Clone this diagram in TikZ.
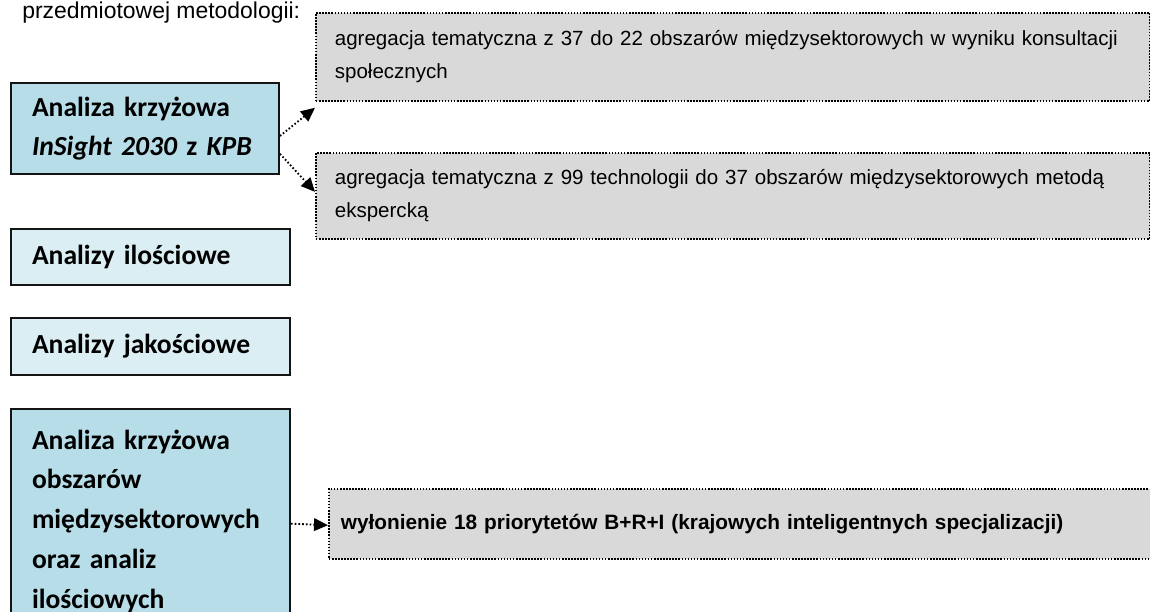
\documentclass[tikz,border=0pt]{standalone}
\usepackage{fontspec}
\setmainfont{Liberation Sans}
\newfontfamily\carlito{Carlito}
\usepackage{xcolor}
\usepackage{tikz}
\usetikzlibrary{arrows.meta,calc,positioning}
\definecolor{aquadeep}{RGB}{183,221,232}
\definecolor{aquapale}{RGB}{218,238,243}
\definecolor{boxgrey}{RGB}{217,217,217}
\definecolor{edgeblack}{RGB}{20,20,20}
\tikzset{
  crossbox/.style={draw=edgeblack,line width=1.5pt,fill=aquadeep,anchor=north west,
    align=left,inner xsep=15.75pt,inner ysep=0pt,
    font=\carlito\bfseries\fontsize{20.7pt}{29.8pt}\selectfont},
  analysisbox/.style={crossbox,fill=aquapale},
  resultbox/.style={draw=black,line width=1.3pt,dash pattern=on 1.2pt off 1.1pt,
    fill=boxgrey,anchor=north west,align=left,inner xsep=14.25pt,inner ysep=0pt,
    font=\fontsize{15.4pt}{24.75pt}\selectfont},
  dotlink/.style={-{Triangle[length=10.5pt,width=9.5pt]},line width=1.4pt,
    dash pattern=on 1.2pt off 1.6pt,draw=black}
}

\begin{document}
\begin{tikzpicture}[x=0.75pt,y=-0.75pt]
  \useasboundingbox (0,0) rectangle (1150,611);
  \node[anchor=base west,inner sep=0pt,font=\fontsize{17.2pt}{20pt}\selectfont]
    (intro) at (22,18.5) {przedmiotowej metodologii:};
  % left column
  \node[crossbox,minimum width=201pt,minimum height=68.25pt,text width=169.5pt]
    (cross1) at (10,82) {Analiza krzyżowa\\\itshape InSight 2030 \upshape z \itshape KPB};
  \node[analysisbox,minimum width=209.25pt,minimum height=42pt,text width=177.75pt]
    (quant) at (10,228) {Analizy ilościowe};
  \node[analysisbox,minimum width=209.25pt,minimum height=42.75pt,text width=177.75pt]
    (qual) at (10,317) {Analizy jakościowe};
  \node[crossbox,minimum width=209.25pt,minimum height=168pt,text width=177.75pt]
    (cross2) at (10,408) {Analiza krzyżowa\\obszarów\\międzysektorowych\\oraz analiz\\ilościowych};
  % right column
  \node[resultbox,minimum width=625.5pt,minimum height=66pt,text width=597pt]
    (agg1) at (315,12) {agregacja tematyczna z 37 do 22 obszarów międzysektorowych w wyniku konsultacji\\społecznych};
  \node[resultbox,minimum width=625.5pt,minimum height=64.5pt,text width=597pt]
    (agg2) at (315,152) {agregacja tematyczna z 99 technologii do 37 obszarów międzysektorowych metodą\\ekspercką};
  \node[resultbox,minimum width=622.5pt,minimum height=52.5pt,text width=604.5pt,
    inner xsep=9pt,font=\bfseries\fontsize{15.6pt}{24.75pt}\selectfont]
    (prior) at (328,488) {wyłonienie 18 priorytetów B+R+I (krajowych inteligentnych specjalizacji)};
  % links
  \draw[dotlink] ([yshift=-5.6pt]cross1.east) -- ([yshift=-4.5pt]agg1.south west);
  \draw[dotlink] ([yshift=-19pt]cross1.east) -- ([yshift=3pt]agg2.west);
  \draw[dotlink] ([yshift=-2pt]cross2.east) -- ([yshift=-1pt]prior.west);
\end{tikzpicture}
\end{document}
